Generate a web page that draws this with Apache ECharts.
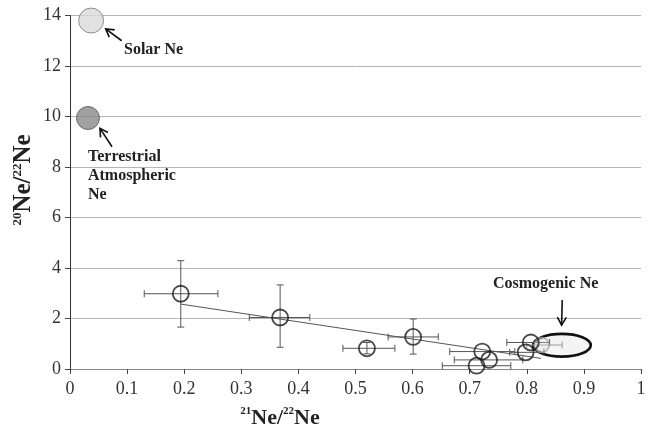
<!DOCTYPE html>
<html><head><meta charset="utf-8">
<script src="https://cdn.jsdelivr.net/npm/echarts@6/dist/echarts.min.js"></script>
<style>html,body{margin:0;padding:0;background:#fff}#c{width:656px;height:432px}</style>
</head><body><div id="c"></div>
<script>
// ---- data ----
const xTickMin = 0, xTickMax = 1, xTickStep = 0.1;
const yTickMin = 0, yTickMax = 14, yTickStep = 2;
const sampleX    = [0.194, 0.368, 0.520, 0.601, 0.722, 0.734, 0.712, 0.798, 0.807];
const sampleY    = [2.98, 2.04, 0.82, 1.27, 0.69, 0.36, 0.13, 0.66, 1.05];
const sampleXLow = [0.130, 0.314, 0.478, 0.557, 0.665, 0.673, 0.652, 0.770, 0.765];
const sampleXHigh= [0.259, 0.420, 0.569, 0.645, 0.779, 0.793, 0.772, 0.830, 0.840];
const sampleYLow = [1.66, 0.86, 0.60, 0.59, 0.69, 0.36, 0.13, 0.66, 1.05];
const sampleYHigh= [4.29, 3.33, 1.05, 1.98, 0.69, 0.36, 0.13, 0.66, 1.05];
const cosmoPoint = [0.826, 0.95];
const cosmoPointErrX = [0.800, 0.862];
const solarNe = [0.037, 13.8];
const terrestrialNe = [0.0315, 9.94];
const trendX = [0.194, 0.825];
const trendY = [2.57, 0.42];
const cosmoEllipse = [0.8615, 0.94, 0.0505, 0.45]; // cx, cy, half-width, half-height (data units)
const arrowTail = [[0.0905, 13.0], [0.0736, 8.80], [0.862, 2.73]];
const arrowTip  = [[0.0625, 13.47], [0.0525, 9.53], [0.861, 1.74]];
const noteTexts = ['Solar Ne', 'Terrestrial\nAtmospheric\nNe', 'Cosmogenic Ne'];
const notePos   = [[0.0946, 12.65], [0.0315, 7.64], [0.833, 3.37]];
const noteAlign = ['left', 'left', 'center'];

const serif = "'Liberation Serif', 'DejaVu Serif', serif";

const errData = sampleX.map((x, i) => [x, sampleY[i], sampleXLow[i], sampleXHigh[i], sampleYLow[i], sampleYHigh[i]]);
errData.push([cosmoPoint[0], cosmoPoint[1], cosmoPointErrX[0], cosmoPointErrX[1], cosmoPoint[1], cosmoPoint[1]]);

function renderErr(params, api) {
  const x = api.value(0), y = api.value(1);
  const xl = api.value(2), xh = api.value(3), yl = api.value(4), yh = api.value(5);
  const isCosmo = params.dataIndex === sampleX.length;
  const st = { stroke: isCosmo ? '#999' : '#555', lineWidth: 1, fill: null };
  const cap = 3.5;
  const ch = [];
  if (xl !== xh) {
    const a = api.coord([xl, y]), b = api.coord([xh, y]);
    ch.push({ type: 'line', shape: { x1: a[0], y1: a[1], x2: b[0], y2: b[1] }, style: st });
    ch.push({ type: 'line', shape: { x1: a[0], y1: a[1] - cap, x2: a[0], y2: a[1] + cap }, style: st });
    ch.push({ type: 'line', shape: { x1: b[0], y1: b[1] - cap, x2: b[0], y2: b[1] + cap }, style: st });
  }
  if (yl !== yh) {
    const a = api.coord([x, yl]), b = api.coord([x, yh]);
    ch.push({ type: 'line', shape: { x1: a[0], y1: a[1], x2: b[0], y2: b[1] }, style: st });
    ch.push({ type: 'line', shape: { x1: a[0] - cap, y1: a[1], x2: a[0] + cap, y2: a[1] }, style: st });
    ch.push({ type: 'line', shape: { x1: b[0] - cap, y1: b[1], x2: b[0] + cap, y2: b[1] }, style: st });
  }
  return { type: 'group', children: ch };
}

function renderEllipse(params, api) {
  const c = api.coord([api.value(0), api.value(1)]);
  const s = api.size([api.value(2), api.value(3)]);
  return { type: 'ellipse', shape: { cx: c[0], cy: c[1], rx: s[0], ry: s[1] },
    style: { fill: 'rgba(235,235,235,0.55)', stroke: '#111', lineWidth: 2.6 } };
}

const arrowData = arrowTail.map((t, i) => [t[0], t[1], arrowTip[i][0], arrowTip[i][1]]);
function renderArrow(params, api) {
  const a = api.coord([api.value(0), api.value(1)]);
  const b = api.coord([api.value(2), api.value(3)]);
  const ang = Math.atan2(b[1] - a[1], b[0] - a[0]);
  const L = 9, w = Math.PI / 6;
  const st = { stroke: '#111', lineWidth: 1.6, fill: null };
  const h1 = [b[0] - L * Math.cos(ang - w), b[1] - L * Math.sin(ang - w)];
  const h2 = [b[0] - L * Math.cos(ang + w), b[1] - L * Math.sin(ang + w)];
  return { type: 'group', children: [
    { type: 'line', shape: { x1: a[0], y1: a[1], x2: b[0], y2: b[1] }, style: st },
    { type: 'polyline', shape: { points: [h1, b, h2] }, style: st }
  ]};
}

const noteData = notePos.map(p => [p[0], p[1]]);
function renderNote(params, api) {
  const c = api.coord([api.value(0), api.value(1)]);
  const i = params.dataIndex;
  return { type: 'text', x: c[0], y: c[1],
    style: { text: noteTexts[i], fill: '#222', font: 'bold 16px ' + serif,
      align: noteAlign[i], verticalAlign: 'middle', lineHeight: 19 } };
}

const chart = echarts.init(document.getElementById('c'), null, { renderer: 'canvas' });
chart.setOption({
  animation: false,
  backgroundColor: '#fff',
  grid: { left: 70, right: 15, top: 15.5, bottom: 63, containLabel: false },
  xAxis: {
    type: 'value', min: xTickMin, max: xTickMax, interval: xTickStep,
    axisLine: { show: true, onZero: false, lineStyle: { color: '#888', width: 1 } },
    axisTick: { show: true, length: 5, lineStyle: { color: '#444' } },
    axisLabel: { color: '#333', fontFamily: serif, fontSize: 18, margin: 11,
      formatter: v => String(Math.round(v * 10) / 10) },
    splitLine: { show: false }
  },
  yAxis: {
    type: 'value', min: yTickMin, max: yTickMax, interval: yTickStep,
    axisLine: { show: true, onZero: false, lineStyle: { color: '#333', width: 1 } },
    axisTick: { show: true, length: 5, lineStyle: { color: '#444' } },
    axisLabel: { color: '#333', fontFamily: serif, fontSize: 18, margin: 9 },
    splitLine: { show: true, lineStyle: { color: '#b5b5b5', width: 1 } }
  },
  graphic: [
    { type: 'text', x: 24, y: 180, rotation: Math.PI / 2,
      style: { text: '{s|20}{m|Ne/}{s|22}{m|Ne}', align: 'center', verticalAlign: 'middle',
        rich: { m: { font: 'bold 25px ' + serif, fill: '#222', lineHeight: 26 },
                s: { font: 'bold 13px ' + serif, fill: '#222', verticalAlign: 'top' } } } },
    { type: 'text', x: 280, y: 418,
      style: { text: '{s|21}{m|Ne/}{s|22}{m|Ne}', align: 'center', verticalAlign: 'middle',
        rich: { m: { font: 'bold 22px ' + serif, fill: '#222', lineHeight: 24 },
                s: { font: 'bold 11px ' + serif, fill: '#222', verticalAlign: 'top' } } } }
  ],
  series: [
    { type: 'custom', name: 'ellipse', renderItem: renderEllipse, data: [cosmoEllipse],
      encode: { x: 0, y: 1 }, z: 2, silent: true },
    { type: 'line', name: 'trend', data: trendX.map((x, i) => [x, trendY[i]]),
      symbol: 'none', lineStyle: { color: '#555', width: 1 }, z: 3, silent: true },
    { type: 'custom', name: 'err', renderItem: renderErr, data: errData,
      encode: { x: 0, y: 1 }, z: 4, silent: true },
    { type: 'scatter', name: 'cosmo', data: [cosmoPoint], symbolSize: 15,
      itemStyle: { color: 'rgba(220,220,220,0.4)', borderColor: '#999', borderWidth: 1.3 }, z: 5 },
    { type: 'scatter', name: 'samples', data: sampleX.map((x, i) => [x, sampleY[i]]), symbolSize: 16,
      itemStyle: { color: 'rgba(255,255,255,0)', borderColor: '#1a1a1a', borderWidth: 1.8 }, z: 6 },
    { type: 'scatter', name: 'solar', data: [solarNe], symbolSize: 25,
      itemStyle: { color: '#d9d9d9', borderColor: '#777', borderWidth: 1 }, z: 6 },
    { type: 'scatter', name: 'terrestrial', data: [terrestrialNe], symbolSize: 23,
      itemStyle: { color: '#8a8a8a', borderColor: '#555', borderWidth: 1 }, z: 6 },
    { type: 'custom', name: 'arrows', renderItem: renderArrow, data: arrowData,
      encode: { x: [0, 2], y: [1, 3] }, z: 7, silent: true },
    { type: 'custom', name: 'notes', renderItem: renderNote, data: noteData,
      encode: { x: 0, y: 1 }, z: 8, silent: true }
  ]
});
</script>
</body></html>
